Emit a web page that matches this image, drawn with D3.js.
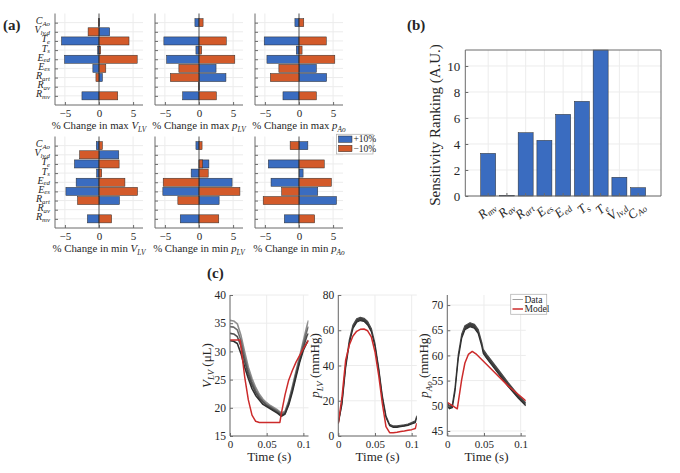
<!DOCTYPE html>
<html>
<head>
<meta charset="utf-8">
<script src="https://cdn.jsdelivr.net/npm/d3@7"></script>
<style>
	body { margin: 0; background: #fff; }
</style>
</head>
<body>
<svg id="fig" width="680" height="473"></svg>
<script>
	// ---------- data ----------
	// (a) rows, top to bottom
	const params = ['C_Ao', 'V_lvd', 'T_e', 'T_s', 'E_ed', 'E_es', 'R_art', 'R_av', 'R_mv'];

	const maxVlvPlus = [0.08, 1.57, -5.5, -0.2, -5.05, -0.9, 0.5, 0, -2.5];
	const maxVlvMinus = [-0.08, -1.6, 4.4, 0.25, 5.6, 1.0, -0.45, 0, 2.75];
	const maxPlvPlus = [-0.6, 0, -5.15, -0.45, -4.75, 2.5, 3.95, 0.05, -2.4];
	const maxPlvMinus = [0.6, 0, 4.0, 0.4, 5.25, -2.95, -4.2, -0.05, 2.55];
	const maxPaoPlus = [-0.6, 0, -5.1, -0.4, -4.7, 2.55, 4.05, 0, -2.35];
	const maxPaoMinus = [0.7, 0, 4.0, 0.45, 5.25, -2.95, -4.2, 0, 2.55];
	const minVlvPlus = [-0.4, 2.9, -3.6, -0.35, -3.35, -4.85, 3.0, 0, -1.7];
	const minVlvMinus = [0.5, -2.85, 2.95, 0.4, 3.8, 5.65, -3.15, 0, 1.85];
	const minPlvPlus = [-0.45, 0, 1.45, -1.15, 4.85, -5.3, 2.95, 0, -2.75];
	const minPlvMinus = [0.45, 0, 0.55, 1.35, -5.25, 6.0, -3.1, 0, 2.9];
	const minPaoPlus = [1.3, 0, -4.5, 0.6, -4.1, 2.75, 5.5, 0, -2.15];
	const minPaoMinus = [-1.3, 0, 3.7, 0, 4.75, -2.55, -5.25, 0, 2.3];
	const pctTicks = [-5, 0, 5];
	const legendA = ['+10%', '\u221210%'];

	// (b)
	const rankCats = ['R_mv', 'R_av', 'R_art', 'E_es', 'E_ed', 'T_s', 'T_e', 'V_lvd', 'C_Ao'];
	const rankVals = [3.28, 0.05, 4.87, 4.28, 6.28, 7.28, 11.23, 1.44, 0.64];
	const rankTicks = [0, 2, 4, 6, 8, 10];

	// (c) V_LV
	const tV = [0, .005, .01, .015, .02, .025, .03, .035, .04, .045, .05, .055, .06, .065, .07, .075, .08, .085, .09, .095, .1, .105, .107];
	const vlvDataA = [35.5, 35.4, 34.9, 32.8, 29.9, 27.2, 25.2, 23.6, 22.4, 21.5, 20.9, 20.4, 20.0, 19.6, 19.1, 19.4, 21.2, 23.8, 26.5, 29.2, 31.9, 34.6, 35.5];
	const vlvDataB = [34.4, 34.3, 33.8, 31.9, 29.0, 26.5, 24.6, 23.1, 22.0, 21.2, 20.6, 20.2, 19.8, 19.4, 18.9, 19.2, 21.0, 23.5, 26.2, 28.8, 31.3, 33.7, 34.4];
	const vlvDataC = [33.2, 33.1, 32.6, 30.9, 28.2, 25.9, 24.1, 22.7, 21.7, 21.0, 20.4, 20.0, 19.6, 19.2, 18.7, 19.0, 20.8, 23.2, 25.9, 28.4, 30.7, 32.8, 33.2];
	const vlvDataD = [31.9, 31.8, 31.4, 29.6, 27.2, 25.2, 23.4, 22.2, 21.4, 20.6, 20.2, 19.8, 19.4, 19.0, 18.5, 18.9, 20.5, 22.8, 25.5, 28.1, 30.2, 31.6, 31.9];
	const tVm = [0, .0136, .015, .02, .025, .03, .035, .04, .068, .07, .075, .08, .085, .09, .095, .1, .105, .107];
	const vlvModel = [32, 32, 30.8, 25.5, 21.4, 18.7, 17.6, 17.4, 17.4, 19.0, 22.3, 24.9, 26.6, 28.1, 29.3, 30.5, 31.5, 32];

	// (c) p_LV
	const tP = tV;
	const plvDataHi = [7.5, 19, 40, 54.5, 63, 66.5, 67.3, 66.8, 65, 61, 52.5, 39, 23, 11.5, 6.6, 5.7, 5.7, 6.1, 6.4, 6.8, 7.6, 8.6, 11.5];
	const plvDataLo = [7.0, 18, 38.5, 52.5, 61, 64.5, 65.5, 65, 63, 59.2, 50.8, 37.8, 21.6, 10.5, 5.8, 4.9, 4.9, 5.3, 5.6, 6.0, 6.8, 7.6, 10.5];
	const plvModel = [7.2, 22, 43, 51.6, 56.7, 59.4, 60.5, 60.7, 59.7, 56.3, 47.8, 34.6, 18.5, 5.3, 1.9, 1.9, 2.1, 2.5, 2.8, 3.2, 3.6, 4.3, 7.2];

	// (c) p_Ao
	const tA = [0, .003, .0068, .0105, .015, .0196, .024, .031, .0368, .042, .047, .049, .0537, .0605, .0696, .083, .0969, .107];
	const paoDataHi = [50.5, 50.0, 50.2, 53.6, 60.2, 64.2, 65.9, 66.5, 66.2, 65.2, 62.6, 61.2, 60.2, 58.9, 57.2, 54.6, 52.1, 50.6];
	const paoDataLo = [49.9, 49.4, 49.6, 52.8, 59.4, 63.4, 65.1, 65.7, 65.4, 64.4, 61.8, 60.4, 59.4, 58.1, 56.4, 53.8, 51.5, 50.0];
	const tAm = [0, .0136, .0196, .024, .0287, .034, .04, .0605, .0832, .107];
	const paoModel = [50.7, 49.4, 55.2, 58.5, 60.2, 60.8, 60.2, 57.2, 53.9, 51.0];
	const timeTicks = [0, 0.05, 0.1];

	// ---------- styling ----------
	const blue = '#3a6cc0', orange = '#d35a2a', red = '#cc2b2b';
	const gridCol = '#ececec', axisCol = '#6b6b6b', txtCol = '#262626';
	const serif = '"Liberation Serif"';

	// math-ish labels: [text, mode] r roman, i italic, s italic subscript
	const paramLabel = {
		C_Ao: [['C', 'i'], ['Ao', 's']],
		V_lvd: [['V', 'i'], ['lv,d', 's']],
		T_e: [['T', 'i'], ['e', 's']],
		T_s: [['T', 'i'], ['s', 's']],
		E_ed: [['E', 'i'], ['ed', 's']],
		E_es: [['E', 'i'], ['es', 's']],
		R_art: [['R', 'i'], ['art', 's']],
		R_av: [['R', 'i'], ['av', 's']],
		R_mv: [['R', 'i'], ['mv', 's']]
	};

	function txt(sel) {
		return sel.append('text').style('font-family', serif).style('fill', txtCol);
	}

	function rich(text, parts, size, drop = 0.25) {
		let low = false;
		parts.forEach(([s, m]) => {
			const sp = text.append('tspan').text(s)
				.style('font-family', serif)
				.style('font-size', (m === 's' ? size * 0.68 : size) + 'px')
				.style('font-style', m === 'r' ? 'normal' : 'italic');
			if (m === 's' && !low) { sp.attr('dy', size * drop); low = true; }
			else if (m !== 's' && low) { sp.attr('dy', -size * drop); low = false; }
		});
		return text;
	}

	function styleAxis(a, size) {
		a.attr('font-family', null);
		a.selectAll('text').style('font-family', serif).style('fill', txtCol).style('font-size', size + 'px');
	}

	const svg = d3.select('#fig');

	function panelTag(x, y, s) {
		txt(svg).attr('x', x).attr('y', y)
			.style('font-size', '15px').style('font-weight', 'bold').text(s);
	}

	// ---------- (a) tornado panels ----------
	function tornado(x0, y0, plus, minus, xlab, withRows) {
		const w = 88, h = 91.5;
		const x = d3.scaleLinear().domain([-6.45, 6.45]).range([x0, x0 + w]);
		const y = d3.scaleLinear().domain([0, 10]).range([y0, y0 + h]);
		const g = svg.append('g');

		g.selectAll(null).data(pctTicks).join('line')
			.attr('x1', d => x(d)).attr('x2', d => x(d))
			.attr('y1', y0).attr('y2', y0 + h)
			.attr('stroke', gridCol);
		g.selectAll(null).data(d3.range(1, 10)).join('line')
			.attr('x1', x0).attr('x2', x0 + w)
			.attr('y1', d => y(d)).attr('y2', d => y(d))
			.attr('stroke', gridCol);

		const bh = 0.88 * (y(1) - y(0));
		[[plus, blue], [minus, orange]].forEach(([vals, col]) => {
			g.selectAll(null).data(vals).join('rect')
				.attr('x', d => x(Math.min(0, d)))
				.attr('width', d => Math.abs(x(d) - x(0)))
				.attr('y', (d, i) => y(i + 1) - bh / 2)
				.attr('height', bh)
				.attr('fill', col)
				.attr('stroke', '#2a2a2a').attr('stroke-width', 0.5);
		});

		g.append('line')
			.attr('x1', x(0)).attr('x2', x(0))
			.attr('y1', y0).attr('y2', y0 + h)
			.attr('stroke', '#333').attr('stroke-width', 0.8);

		const ax = g.append('g').attr('transform', `translate(0,${y0 + h})`)
			.attr('color', axisCol)
			.call(d3.axisBottom(x).tickValues(pctTicks).tickSize(-3).tickSizeOuter(0).tickPadding(4));
		const ay = g.append('g').attr('transform', `translate(${x0},0)`)
			.attr('color', axisCol)
			.call(d3.axisLeft(y).tickValues(d3.range(1, 10)).tickSize(-3).tickSizeOuter(0).tickFormat(''));
		ax.select('.domain').attr('d', `M${x0},0H${x0 + w}`);
		ay.select('.domain').attr('d', `M0,${y0}V${y0 + h}`);
		styleAxis(ax, 11);

		if (withRows) {
			params.forEach((p, i) => {
				const t = txt(g).attr('x', x0 - 5).attr('y', y(i + 1) + 1.5)
					.attr('text-anchor', 'end');
				rich(t, paramLabel[p], 10, 0.15);
			});
		}

		const lt = txt(g).attr('x', x0 + w / 2).attr('y', y0 + h + 24)
			.attr('text-anchor', 'middle');
		rich(lt, xlab, 10.8);
	}

	const topY = 13.5, botY = 136.5;
	tornado(55, topY, maxVlvPlus, maxVlvMinus, [['% Change in max ', 'r'], ['V', 'i'], ['LV', 's']], true);
	tornado(155, topY, maxPlvPlus, maxPlvMinus, [['% Change in max ', 'r'], ['p', 'i'], ['LV', 's']], false);
	tornado(255, topY, maxPaoPlus, maxPaoMinus, [['% Change in max ', 'r'], ['p', 'i'], ['Ao', 's']], false);
	tornado(55, botY, minVlvPlus, minVlvMinus, [['% Change in min ', 'r'], ['V', 'i'], ['LV', 's']], true);
	tornado(155, botY, minPlvPlus, minPlvMinus, [['% Change in min ', 'r'], ['p', 'i'], ['LV', 's']], false);
	tornado(255, botY, minPaoPlus, minPaoMinus, [['% Change in min ', 'r'], ['p', 'i'], ['Ao', 's']], false);

	// legend (a)
	const lgA = svg.append('g');
	lgA.append('rect').attr('x', 336.5).attr('y', 134.3).attr('width', 36.5).attr('height', 19.7)
		.attr('fill', '#fff').attr('stroke', '#b5b5b5').attr('stroke-width', 0.8);
	[blue, orange].forEach((c, i) => {
		lgA.append('rect').attr('x', 338.5).attr('y', 136 + i * 9.3).attr('width', 13.5).attr('height', 6.4)
			.attr('fill', c).attr('stroke', '#2a2a2a').attr('stroke-width', 0.5);
		txt(lgA).attr('x', 353.5).attr('y', 142.3 + i * 9.3)
			.style('font-size', '9.5px').text(legendA[i]);
	});

	panelTag(3, 30, '(a)');

	// ---------- (b) ranking bars ----------
	(function () {
		const L = 465.3, R = 661, T = 50, B = 196;
		const x = d3.scaleBand().domain(rankCats).range([L, R]).paddingInner(0.2).paddingOuter(0.82);
		const y = d3.scaleLinear().domain([0, 11.23]).range([B, T]);
		const g = svg.append('g');

		g.selectAll(null).data(rankCats).join('line')
			.attr('x1', d => x(d) + x.bandwidth() / 2).attr('x2', d => x(d) + x.bandwidth() / 2)
			.attr('y1', T).attr('y2', B).attr('stroke', gridCol);
		g.selectAll(null).data(rankTicks).join('line')
			.attr('x1', L).attr('x2', R).attr('y1', d => y(d)).attr('y2', d => y(d))
			.attr('stroke', gridCol);

		g.selectAll(null).data(rankVals).join('rect')
			.attr('x', (d, i) => x(rankCats[i]))
			.attr('width', x.bandwidth())
			.attr('y', d => y(d))
			.attr('height', d => B - y(d))
			.attr('fill', blue).attr('stroke', '#2a2a2a').attr('stroke-width', 0.5);

		const ay = g.append('g').attr('transform', `translate(${L},0)`)
			.attr('color', axisCol)
			.call(d3.axisLeft(y).tickValues(rankTicks).tickSize(-3).tickSizeOuter(0).tickPadding(5));
		ay.select('.domain').attr('d', `M0,${T}V${B}`);
		styleAxis(ay, 13);
		const ax = g.append('g').attr('transform', `translate(0,${B})`)
			.attr('color', axisCol)
			.call(d3.axisBottom(x).tickSize(-3).tickSizeOuter(0).tickFormat(''));
		ax.select('.domain').attr('d', `M${L},0H${R}`);
		g.append('path').attr('d', `M${L},${T}H${R}V${B}`)
			.attr('fill', 'none').attr('stroke', axisCol);

		rankCats.forEach(c => {
			const cx = x(c) + x.bandwidth() / 2 + 8;
			const t = txt(g).attr('text-anchor', 'end')
				.attr('transform', `translate(${cx},${B + 12}) rotate(-40)`);
			rich(t, paramLabel[c], 13, 0.2);
		});

		txt(g).attr('transform', `translate(${L - 25},${(T + B) / 2 + 2}) rotate(-90)`)
			.attr('text-anchor', 'middle').style('font-size', '15px')
			.text('Sensitivity Ranking (A.U.)');
	})();

	panelTag(407, 30, '(b)');

	// ---------- (c) time courses ----------
	function timePlot(x0, domainY, ticksY, ylab, draw) {
		const w = 78.5, T = 295, B = 436;
		const x = d3.scaleLinear().domain([0, 0.107]).range([x0, x0 + w]);
		const y = d3.scaleLinear().domain(domainY).range([B, T]);
		const g = svg.append('g');

		g.selectAll(null).data(timeTicks).join('line')
			.attr('x1', d => x(d)).attr('x2', d => x(d)).attr('y1', T).attr('y2', B)
			.attr('stroke', gridCol);
		g.selectAll(null).data(ticksY).join('line')
			.attr('x1', x0).attr('x2', x0 + w).attr('y1', d => y(d)).attr('y2', d => y(d))
			.attr('stroke', gridCol);

		const clip = 'clip' + Math.round(x0);
		svg.append('clipPath').attr('id', clip).append('rect')
			.attr('x', x0).attr('y', T).attr('width', w).attr('height', B - T);
		draw(g.append('g').attr('clip-path', `url(#${clip})`), x, y);

		const ax = g.append('g').attr('transform', `translate(0,${B})`)
			.attr('color', axisCol)
			.call(d3.axisBottom(x).tickValues(timeTicks).tickFormat(d3.format('~g')).tickSize(-3).tickSizeOuter(0).tickPadding(4));
		ax.select('.domain').attr('d', `M${x0},0H${x0 + w}`);
		styleAxis(ax, 11);
		const ay = g.append('g').attr('transform', `translate(${x0},0)`)
			.attr('color', axisCol)
			.call(d3.axisLeft(y).tickValues(ticksY).tickSize(-3).tickSizeOuter(0).tickPadding(4));
		ay.select('.domain').attr('d', `M0,${T}V${B}`);
		styleAxis(ay, 11.5);

		txt(g).attr('x', x0 + w / 2).attr('y', B + 25)
			.attr('text-anchor', 'middle').style('font-size', '13px').text('Time (s)');
		const yl = txt(g).attr('text-anchor', 'middle')
			.attr('transform', `translate(${x0 - 19},${(T + B) / 2}) rotate(-90)`);
		rich(yl, ylab, 13);
	}

	function curve(g, x, y, t, vals, col, wd) {
		g.append('path')
			.attr('d', d3.line().x((d, i) => x(t[i])).y(d => y(d))(vals))
			.attr('fill', 'none').attr('stroke', col).attr('stroke-width', wd)
			.attr('stroke-linejoin', 'round');
	}

	function band(g, x, y, t, hi, lo) {
		g.append('path')
			.attr('d', d3.area().x((d, i) => x(t[i])).y0((d, i) => y(lo[i])).y1(d => y(d))(hi))
			.attr('fill', '#3d3d3d');
		curve(g, x, y, t, hi, '#4a4a4a', 1.2);
		curve(g, x, y, t, lo, '#2e2e2e', 1.2);
	}

	timePlot(230, [15, 40], [15, 20, 25, 30, 35, 40], [['V', 'i'], ['LV', 's'], [' (\u03bcL)', 'r']], (g, x, y) => {
		curve(g, x, y, tV, vlvDataA, '#8f8f8f', 1.6);
		curve(g, x, y, tV, vlvDataB, '#6d6d6d', 1.6);
		curve(g, x, y, tV, vlvDataC, '#4e4e4e', 1.6);
		curve(g, x, y, tV, vlvDataD, '#303030', 1.6);
		curve(g, x, y, tVm, vlvModel, red, 1.5);
	});
	timePlot(338.3, [0, 80], [0, 20, 40, 60, 80], [['p', 'i'], ['LV', 's'], [' (mmHg)', 'r']], (g, x, y) => {
		band(g, x, y, tP, plvDataHi, plvDataLo);
		curve(g, x, y, tP, plvModel, red, 1.5);
	});
	timePlot(447.3, [44, 72], [45, 50, 55, 60, 65, 70], [['p', 'i'], ['Ao', 's'], [' (mmHg)', 'r']], (g, x, y) => {
		band(g, x, y, tA, paoDataHi, paoDataLo);
		curve(g, x, y, tAm, paoModel, red, 1.5);
	});

	// legend (c)
	const lgC = svg.append('g');
	lgC.append('rect').attr('x', 510.7).attr('y', 294.3).attr('width', 36).attr('height', 20)
		.attr('fill', '#fff').attr('stroke', '#b5b5b5').attr('stroke-width', 0.8);
	[['Data', '#a0a0a0'], ['Model', red]].forEach(([s, c], i) => {
		lgC.append('line').attr('x1', 512.5).attr('x2', 523).attr('y1', 299.5 + i * 9.5).attr('y2', 299.5 + i * 9.5)
			.attr('stroke', c).attr('stroke-width', i ? 1.5 : 1);
		txt(lgC).attr('x', 524.5).attr('y', 302.5 + i * 9.5).style('font-size', '9.5px').text(s);
	});

	panelTag(207, 278, '(c)');
</script>
</body>
</html>
